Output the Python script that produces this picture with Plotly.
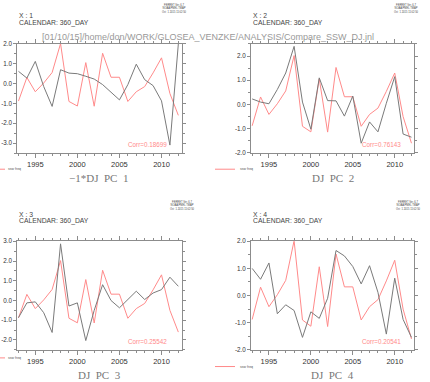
import plotly.graph_objects as go

# ---------------- data ----------------
years = list(range(1993, 2013))
ssw_freq = [-0.88, 0.31, -0.41, 0.03, 0.56, 2.02, -0.9, -1.13, 1.06, -1.14,
            1.53, 0.32, 0.32, -0.9, -0.41, -0.15, 0.54, 1.3, -0.5, -1.6]
pc1_neg = [0.62, 0.28, 1.12, -0.15, -1.15, 0.7, 0.53, 0.5, 0.37, 0.23,
           -0.05, -0.45, -0.82, -0.05, 0.98, 0.2, -0.1, -0.87, -3.1, 2.0]
pc2 = [0.23, 0.1, 0.03, 0.62, 1.3, 2.4, 0.1, -1.02, 1.1, 0.16,
       0.15, -0.48, 0.35, -1.6, -0.72, -1.13, 0.05, 1.15, -1.22, -1.35]
pc3 = [-0.87, -0.12, -0.07, -0.62, -1.62, 2.87, -0.28, -0.12, -2.03, -0.5,
       0.8, 0.0, -0.37, 0.05, 0.47, 0.05, 0.38, 0.55, 1.18, 0.72]
pc4 = [1.0, 0.6, 1.2, -0.67, -0.34, -0.55, -1.54, -0.6, -0.84, -0.1,
       1.66, 1.46, 1.07, 0.43, 1.1, 0.12, -1.42, 0.64, -0.88, -1.54]
pcs = [pc1_neg, pc2, pc3, pc4]
panel_titles = ["\u22121*DJ  PC  1", "DJ  PC  2", "DJ  PC  3", "DJ  PC  4"]
corr_labels = ["Corr=0.18699", "Corr=0.76143", "Corr=0.25542", "Corr=0.20541"]
x_labels = ["X : 1", "X : 2", "X : 3", "X : 4"]
y_ranges = [[-3.5, 2.0], [-2.0, 2.5], [-2.5, 3.0], [-2.0, 2.0]]
y_ticks = [[-3, -2, -1, 0, 1, 2], [-2, -1, 0, 1, 2], [-2, -1, 0, 1, 2, 3], [-2, -1, 0, 1, 2]]
x_ticks = [1995, 2000, 2005, 2010]
main_title = "[01/10/15]/home/don/WORK/GLOSEA_VENZKE/ANALYSIS/Compare_SSW_DJ.jnl"
legend_label = "ssw freq"
header_lines = "FERRET Ver. 6.7<br>NOAA/PMEL TMAP<br>Oct  1 2015 11:02:50"

# ---------------- layout geometry (pixels) ----------------
W, H = 430, 382
RED = "#ff8a8a"
GRAY = "#7a7a7a"
FRAME = "#8c8c8c"

panels = [
    dict(x0=17.3, x1=181.7, y0=40.7, y1=151.8, xr=[1992.86, 2012.4]),
    dict(x0=251.0, x1=414.0, y0=40.7, y1=151.7, xr=[1992.86, 2012.3]),
    dict(x0=17.3, x1=181.7, y0=241.7, y1=352.3, xr=[1992.86, 2012.4]),
    dict(x0=251.0, x1=414.0, y0=241.7, y1=352.3, xr=[1992.86, 2012.3]),
]
hdr_pos = [(174, 4.5), (406, 4.5), (182, 205), (408, 205)]
xlab_pos = [(17, 12), (251, 12), (17, 214), (251, 214)]
title_pos = [(98, 177), (332.7, 177), (99, 378), (332.7, 378)]
corr_pos = [(147, 142.7), (381, 142.7), (147, 344.3), (381, 343.3)]
leg_pos = [(-14, 5, 6, 168.3), (215, 235, 238, 168.3), (-14, 5, 6, 360.5), (215, 235, 238, 369.3)]


def px(x):
    return x / W


def py(y):
    return 1 - y / H


fig = go.Figure()
annotations = []
shapes = []

for i, p in enumerate(panels):
    n = "" if i == 0 else str(i + 1)
    xa, ya = "x" + n, "y" + n
    fig.add_trace(go.Scatter(x=years, y=ssw_freq, mode="lines",
                             line=dict(color=RED, width=1), xaxis=xa, yaxis=ya,
                             showlegend=False, cliponaxis=True))
    fig.add_trace(go.Scatter(x=years, y=pcs[i], mode="lines",
                             line=dict(color=GRAY, width=1), xaxis=xa, yaxis=ya,
                             showlegend=False, cliponaxis=True))
    fig.layout["xaxis" + n] = dict(
        domain=[px(p["x0"]), px(p["x1"])], range=p["xr"], anchor=ya,
        tickvals=x_ticks, ticktext=[str(v) for v in x_ticks],
        ticks="outside", ticklen=4, tickcolor=FRAME, tickwidth=1,
        minor=dict(tickvals=years, ticks="outside", ticklen=2, tickcolor=FRAME),
        showline=True, linecolor=FRAME, linewidth=1, mirror="ticks",
        showgrid=False, zeroline=False,
        tickfont=dict(family="Liberation Sans", size=7.5, color="#333333"),
    )
    fig.layout["yaxis" + n] = dict(
        domain=[py(p["y1"]), py(p["y0"])], range=y_ranges[i], anchor=xa,
        tickvals=y_ticks[i], ticktext=["%.1f" % v for v in y_ticks[i]],
        ticks="outside", ticklen=3, tickcolor=FRAME, tickwidth=1,
        minor=dict(dtick=0.5, tick0=0, ticks="outside", ticklen=2, tickcolor=FRAME),
        showline=True, linecolor=FRAME, linewidth=1, mirror="ticks",
        showgrid=False, zeroline=False,
        tickfont=dict(family="Liberation Sans", size=6.3, color="#333333"),
    )
    hx, hy = hdr_pos[i]
    annotations.append(dict(text=header_lines, x=px(hx), y=py(hy), xref="paper", yref="paper",
                            showarrow=False, xanchor="center", yanchor="middle",
                            font=dict(family="Liberation Sans", size=2.6, color="#444444")))
    lx, ly = xlab_pos[i]
    annotations.append(dict(text=x_labels[i], x=px(lx), y=py(ly), xref="paper", yref="paper",
                            showarrow=False, xanchor="left", yanchor="middle",
                            font=dict(family="Liberation Sans", size=6.8, color="#444444")))
    annotations.append(dict(text="CALENDAR: 360_DAY", x=px(lx), y=py(ly + 7.5), xref="paper",
                            yref="paper", showarrow=False, xanchor="left", yanchor="middle",
                            font=dict(family="Liberation Sans", size=6.8, color="#444444")))
    tx, ty = title_pos[i]
    annotations.append(dict(text=panel_titles[i], x=px(tx), y=py(ty), xref="paper", yref="paper",
                            showarrow=False, xanchor="center", yanchor="middle",
                            font=dict(family="Liberation Serif", size=11, color="#777777")))
    cx, cy = corr_pos[i]
    annotations.append(dict(text=corr_labels[i], x=px(cx), y=py(cy), xref="paper", yref="paper",
                            showarrow=False, xanchor="center", yanchor="middle",
                            font=dict(family="Liberation Sans", size=6.3, color=RED)))
    l0, l1, lt, lyy = leg_pos[i]
    shapes.append(dict(type="line", xref="paper", yref="paper", x0=px(l0), x1=px(l1),
                       y0=py(lyy), y1=py(lyy), line=dict(color=RED, width=1)))
    annotations.append(dict(text=legend_label, x=px(lt), y=py(lyy), xref="paper", yref="paper",
                            showarrow=False, xanchor="left", yanchor="middle",
                            font=dict(family="Liberation Sans", size=3.5, color="#555555")))

annotations.append(dict(text=main_title, x=px(39.5), y=py(33.3), xref="paper", yref="paper",
                        showarrow=False, xanchor="left", yanchor="middle",
                        font=dict(family="Liberation Sans", size=9, color="#999999")))

fig.update_layout(width=W, height=H, margin=dict(l=0, r=0, t=0, b=0),
                  paper_bgcolor="white", plot_bgcolor="white",
                  annotations=annotations, shapes=shapes, showlegend=False)

fig.write_html("out.html", config={"displayModeBar": False},
               post_script="document.body.style.margin='0px';document.body.style.overflow='hidden';")
